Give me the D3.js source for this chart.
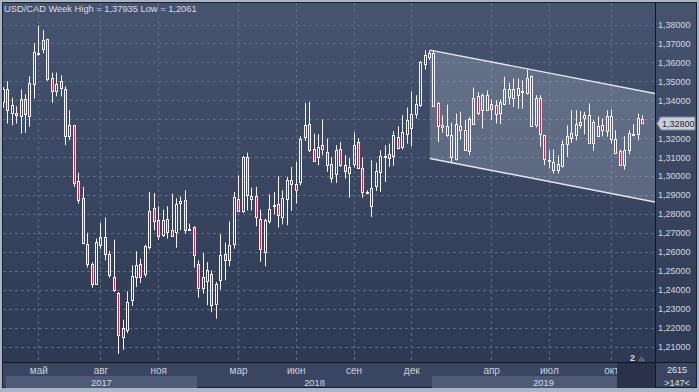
<!DOCTYPE html>
<html>
<head>
<meta charset="utf-8">
<script src="https://cdn.jsdelivr.net/npm/d3@7"></script>
<style>
  body { margin: 0; background: #a9b5c5; }
  svg { display: block; }
</style>
</head>
<body>
<script>
// weekly USD/CAD bars
var opens = [1.339,1.3462,1.3335,1.3335,1.3316,1.3409,1.3316,1.3485,1.3647,1.367,
  1.3721,1.3515,1.345,1.3501,1.3458,1.3212,1.3268,1.2974,1.2886,1.2643,
  1.2538,1.2432,1.2635,1.2679,1.2591,1.2467,1.2383,1.215,1.2186,1.2344,
  1.2467,1.2538,1.2485,1.2626,1.2833,1.2767,1.2687,1.2775,1.2714,1.2705,
  1.2858,1.2872,1.2716,1.2731,1.2534,1.2411,1.2446,1.2485,1.2326,1.245,
  1.2591,1.2559,1.2643,1.2881,1.2814,1.3101,1.2879,1.2893,1.2775,1.26,
  1.2763,1.2845,1.2855,1.2784,1.2881,1.2978,1.2957,1.2969,1.3207,1.3274,
  1.3145,1.3101,1.3163,1.3127,1.3062,1.3013,1.3142,1.3061,1.3017,1.3066,
  1.318,1.3045,1.2916,1.2841,1.2946,1.3022,1.3101,1.3098,1.3105,1.3207,
  1.3154,1.3221,1.3256,1.3326,1.3374,1.3594,1.3629,1.365,1.3388,1.3268,
  1.3265,1.3219,1.3092,1.3265,1.3242,1.3133,1.3277,1.3421,1.3348,1.343,
  1.3353,1.3377,1.3333,1.3383,1.3458,1.3457,1.3427,1.3443,1.3439,1.3527,
  1.3268,1.3414,1.3216,1.3087,1.3075,1.3031,1.3052,1.3168,1.3203,1.3216,
  1.3268,1.3321,1.3321,1.3175,1.321,1.3272,1.3238,1.3316,1.3198,1.3131,
  1.3057,1.314,1.3219,1.3224,1.33];
var highs = [1.347,1.3501,1.3413,1.3369,1.3458,1.3432,1.3527,1.37,1.37935,1.377,
  1.3725,1.3546,1.3546,1.3532,1.3474,1.3348,1.327,1.3018,1.2943,1.2701,
  1.2545,1.267,1.2754,1.2781,1.2605,1.2664,1.2388,1.2242,1.2392,1.2529,
  1.2603,1.2564,1.2638,1.2916,1.2911,1.2841,1.2823,1.2841,1.2907,1.2884,
  1.2893,1.2925,1.2749,1.2735,1.2555,1.2594,1.2546,1.2502,1.2441,1.2693,
  1.2649,1.2761,1.2916,1.3004,1.3106,1.3124,1.2939,1.2943,1.2823,1.2775,
  1.2904,1.2916,1.2999,1.2925,1.2995,1.3048,1.3075,1.321,1.3386,1.3392,
  1.3224,1.3221,1.3298,1.3198,1.3101,1.3163,1.318,1.311,1.3096,1.323,
  1.3201,1.3098,1.2925,1.3083,1.3071,1.3136,1.3163,1.3171,1.3237,1.3263,
  1.3321,1.3362,1.3448,1.3427,1.3608,1.3664,1.3664,1.3664,1.3392,1.3321,
  1.3377,1.3281,1.333,1.3339,1.3295,1.3312,1.3467,1.3444,1.3436,1.3453,
  1.3404,1.3401,1.3404,1.3524,1.3492,1.3515,1.3515,1.3506,1.3562,1.3531,
  1.3427,1.3427,1.3216,1.3136,1.314,1.311,1.3189,1.3268,1.3348,1.3348,
  1.3344,1.3339,1.3383,1.3295,1.3316,1.3304,1.3348,1.3351,1.3242,1.314,
  1.321,1.3242,1.3274,1.333,1.3321];
var lows = [1.336,1.3277,1.3268,1.3277,1.3224,1.3228,1.326,1.3409,1.3635,1.3647,
  1.3502,1.3386,1.3421,1.3421,1.3163,1.3189,1.2943,1.2855,1.264,1.2517,
  1.2411,1.2429,1.2617,1.2555,1.2464,1.2388,1.2061,1.2083,1.2171,1.2314,
  1.2414,1.2436,1.2467,1.2612,1.2714,1.2664,1.2679,1.267,1.2679,1.2622,
  1.2714,1.2696,1.271,1.2517,1.2358,1.2379,1.2318,1.2282,1.2247,1.24,
  1.245,1.2524,1.2617,1.2811,1.2805,1.2819,1.2819,1.2735,1.2547,1.2524,
  1.2749,1.2798,1.2728,1.2745,1.274,1.2816,1.2855,1.2951,1.3186,1.3127,
  1.3075,1.3057,1.311,1.3022,1.2965,1.2964,1.3048,1.2987,1.2886,1.3045,
  1.304,1.2886,1.2904,1.2784,1.2921,1.2916,1.2969,1.3048,1.3054,1.314,
  1.314,1.3171,1.3157,1.3304,1.3365,1.3562,1.3612,1.3365,1.318,1.3228,
  1.3207,1.3069,1.3083,1.3193,1.3133,1.311,1.3274,1.3321,1.3251,1.3344,
  1.3295,1.3277,1.3274,1.3374,1.3377,1.3365,1.3356,1.3356,1.343,1.326,
  1.3256,1.3154,1.3057,1.304,1.3013,1.3013,1.3045,1.3101,1.3175,1.3189,
  1.3251,1.3221,1.3171,1.3133,1.3207,1.321,1.3207,1.3171,1.3115,1.3052,
  1.3034,1.3115,1.321,1.3189,1.3274];
var closes = [1.346,1.3348,1.3374,1.3323,1.3409,1.3325,1.3492,1.3656,1.3652,1.3717,
  1.3511,1.345,1.3485,1.3467,1.3212,1.3272,1.2964,1.2876,1.2647,1.2534,
  1.2432,1.2652,1.2679,1.2587,1.2476,1.2397,1.2159,1.22,1.2335,1.2473,
  1.2532,1.2467,1.2629,1.2814,1.2763,1.2682,1.277,1.2705,1.2682,1.2851,
  1.2867,1.2717,1.2722,1.2585,1.2411,1.2467,1.2502,1.2318,1.2429,1.2585,
  1.2555,1.2635,1.289,1.2814,1.3101,1.2899,1.2895,1.2784,1.2617,1.2767,
  1.2828,1.2847,1.2797,1.2886,1.2978,1.2957,1.2929,1.3198,1.3268,1.3136,
  1.308,1.3154,1.3145,1.3057,1.2992,1.3136,1.3057,1.3027,1.3048,1.3163,
  1.3045,1.2916,1.2909,1.2939,1.3027,1.3105,1.3108,1.3115,1.3216,1.315,
  1.3233,1.3295,1.3326,1.3383,1.3603,1.3638,1.365,1.337,1.3265,1.326,
  1.3219,1.3101,1.3277,1.3242,1.3136,1.33,1.3414,1.3335,1.343,1.3351,
  1.3383,1.3326,1.3392,1.3457,1.3418,1.3414,1.3467,1.3448,1.3515,1.3263,
  1.3414,1.3221,1.3092,1.308,1.3031,1.3062,1.3168,1.321,1.3228,1.3277,
  1.3284,1.3309,1.3175,1.3286,1.3263,1.3245,1.3316,1.3198,1.3122,1.3057,
  1.314,1.3228,1.3224,1.3304,1.328];

var priceTicks = [1.21,1.22,1.23,1.24,1.25,1.26,1.27,1.28,1.29,1.30,
  1.31,1.32,1.33,1.34,1.35,1.36,1.37,1.38];
var monthBars = [8, 22, 35, 53, 66, 79, 92, 110, 123, 137];
var monthLabels = ["май","авг","ноя","мар","июн","сен","дек","апр","июл","окт"];
var yearStartBars = [0, 44, 97];
var yearLabels = ["2017", "2018", "2019"];
var channelBars = [96.2, 146.9];
var channelUpper = [1.3665, 1.3436];
var channelLower = [1.3093, 1.2863];
var lastPrice = 1.328;
var titleText = "USD/CAD Week High = 1,37935 Low = 1,2061";

var W = 699, H = 392;
var plotL = 3, plotR = 655, plotT = 3, plotB = 362;
var font = "'Liberation Sans', Arial, sans-serif";

var x = d3.scaleLinear().domain([0, opens.length - 1]).range([2.8, 642.1]);
var y = d3.scaleLinear().domain([1.21, 1.38]).range([346.6, 24.5]);
var fmt = d3.formatLocale({decimal: ",", thousands: " ", grouping: [3], currency: ["", ""]}).format(".5f");

var svg = d3.select("body").append("svg").attr("width", W).attr("height", H);
var defs = svg.append("defs");

var grad = defs.append("linearGradient").attr("id", "bg")
  .attr("x1", 0).attr("y1", 0).attr("x2", 0).attr("y2", 1);
grad.append("stop").attr("offset", "0%").attr("stop-color", "#47546f");
grad.append("stop").attr("offset", "100%").attr("stop-color", "#2c3751");

defs.append("clipPath").attr("id", "plotclip")
  .append("rect").attr("x", plotL).attr("y", plotT)
  .attr("width", plotR - plotL).attr("height", plotB - plotT);

// frame and backgrounds
svg.append("rect").attr("width", W).attr("height", H).attr("fill", "#a9b5c5");
svg.append("rect").attr("x", 2.5).attr("y", 2.5).attr("width", 694).attr("height", 385)
  .attr("fill", "url(#bg)").attr("stroke", "#1a2131");
svg.append("rect").attr("x", 3).attr("y", plotB + 1).attr("width", 693).attr("height", 24)
  .attr("fill", "#3a4661");

// grid
var grid = svg.append("g").attr("stroke", "#5e6b86").attr("stroke-dasharray", "3,3");
grid.selectAll(".h").data(priceTicks).enter().append("line")
  .attr("x1", plotL).attr("x2", plotR)
  .attr("y1", function(d) { return Math.round(y(d)) + 0.5; })
  .attr("y2", function(d) { return Math.round(y(d)) + 0.5; });
grid.selectAll(".v").data(monthBars).enter().append("line")
  .attr("y1", plotT).attr("y2", plotB)
  .attr("x1", function(d) { return Math.round(x(d)) + 0.5; })
  .attr("x2", function(d) { return Math.round(x(d)) + 0.5; });

var plot = svg.append("g").attr("clip-path", "url(#plotclip)");

// channel
var chan = [
  [x(channelBars[0]), y(channelUpper[0])], [x(channelBars[1]), y(channelUpper[1])],
  [x(channelBars[1]), y(channelLower[1])], [x(channelBars[0]), y(channelLower[0])]
];
plot.append("path").attr("d", "M" + chan.join("L") + "Z")
  .attr("fill", "rgba(195,205,222,0.26)");
plot.append("line").attr("x1", chan[0][0]).attr("y1", chan[0][1])
  .attr("x2", chan[1][0]).attr("y2", chan[1][1])
  .attr("stroke", "#e4e8ee").attr("stroke-width", 1.4);
plot.append("line").attr("x1", chan[3][0]).attr("y1", chan[3][1])
  .attr("x2", chan[2][0]).attr("y2", chan[2][1])
  .attr("stroke", "#e4e8ee").attr("stroke-width", 1.4);

// candles
var bars = plot.selectAll(".bar").data(d3.range(opens.length)).enter().append("g");
bars.each(function(i) {
  var g = d3.select(this);
  var cx = Math.round(x(i)) + 0.5;
  var o = opens[i], c = closes[i];
  var yt = Math.round(y(Math.max(o, c))) + 0.5;
  var yb = Math.round(y(Math.min(o, c))) + 0.5;
  if (yb - yt < 1) yb = yt + 1;
  g.append("line").attr("x1", cx).attr("x2", cx)
    .attr("y1", y(highs[i])).attr("y2", yt).attr("stroke", "#f2f4f7");
  g.append("line").attr("x1", cx).attr("x2", cx)
    .attr("y1", yb).attr("y2", y(lows[i])).attr("stroke", "#f2f4f7");
  g.append("rect").attr("x", cx - 1).attr("width", 2)
    .attr("y", yt).attr("height", yb - yt)
    .attr("fill", c < o ? "#bc3152" : "none")
    .attr("stroke", "#f2f4f7");
});

// separators
svg.append("line").attr("x1", 2).attr("x2", 697).attr("y1", plotB + 0.5).attr("y2", plotB + 0.5)
  .attr("stroke", "#11161f");
svg.append("line").attr("x1", plotR + 0.5).attr("x2", plotR + 0.5).attr("y1", 2).attr("y2", 388)
  .attr("stroke", "#11161f");

// price axis
var yAxis = svg.append("g").attr("transform", "translate(" + plotR + ",0)")
  .call(d3.axisRight(y).tickValues(priceTicks).tickSize(0).tickPadding(3).tickFormat(fmt));
yAxis.select(".domain").remove();
yAxis.selectAll("text").attr("fill", "#d3d9e3").attr("font-family", font).attr("font-size", 9);

// current price marker
var py = Math.round(y(lastPrice)) + 0.5;
svg.append("path")
  .attr("d", "M657," + py + "L661," + (py - 6.5) + "L695," + (py - 6.5) + "L695," + (py + 6.5) + "L661," + (py + 6.5) + "Z")
  .attr("fill", "#c9cfd9").attr("stroke", "#7f899c");
svg.append("text").attr("x", 662).attr("y", py + 3.3).text(fmt(lastPrice))
  .attr("fill", "#1c2434").attr("font-family", font).attr("font-size", 9);

// year bands
var yearEdges = yearStartBars.map(function(b, k) { return k === 0 ? x(b) + 3 : Math.round(x(b)) - 1; });
yearEdges.push(plotR);
svg.selectAll(".yb").data(yearLabels).enter().append("rect")
  .attr("x", function(d, k) { return yearEdges[k]; })
  .attr("width", function(d, k) { return yearEdges[k + 1] - yearEdges[k]; })
  .attr("y", 376).attr("height", 12)
  .attr("fill", function(d, k) { return k % 2 === 0 ? "#4f5b76" : "none"; });

// month axis
var xAxis = svg.append("g").attr("transform", "translate(0," + plotB + ")")
  .call(d3.axisBottom(x).tickValues(monthBars).tickSize(0).tickPadding(5)
    .tickFormat(function(d, k) { return monthLabels[k]; }));
xAxis.select(".domain").remove();
xAxis.selectAll("text").attr("fill", "#c9d0dc").attr("font-family", font).attr("font-size", 10);

svg.selectAll(".yl").data(yearLabels).enter().append("text")
  .attr("x", function(d, k) { return (yearEdges[k] + yearEdges[k + 1]) / 2; })
  .attr("y", 385.5).attr("text-anchor", "middle").text(function(d) { return d; })
  .attr("fill", "#d3d9e3").attr("font-family", font).attr("font-size", 9.3);

// scroll box bottom right
svg.append("rect").attr("x", 617).attr("y", plotB + 1).attr("width", plotR - 617).attr("height", 25)
  .attr("fill", "#29324a");
svg.append("text").attr("x", 630).attr("y", 361).text("2")
  .attr("fill", "#d6dce6").attr("font-family", font).attr("font-size", 9).attr("font-weight", "bold");
svg.append("path").attr("d", "M641.5,356L645.5,361.5L637.5,361.5Z").attr("fill", "#56627c");

svg.append("text").attr("x", 677).attr("y", 373).attr("text-anchor", "middle").text("2615")
  .attr("fill", "#dfe3ea").attr("font-family", font).attr("font-size", 9);
svg.append("text").attr("x", 677).attr("y", 386).attr("text-anchor", "middle").text(">147<")
  .attr("fill", "#dfe3ea").attr("font-family", font).attr("font-size", 9);

// title
svg.append("text").attr("x", 4).attr("y", 12).text(titleText)
  .attr("fill", "#d8dde6").attr("font-family", font).attr("font-size", 9.3);
</script>
</body>
</html>
